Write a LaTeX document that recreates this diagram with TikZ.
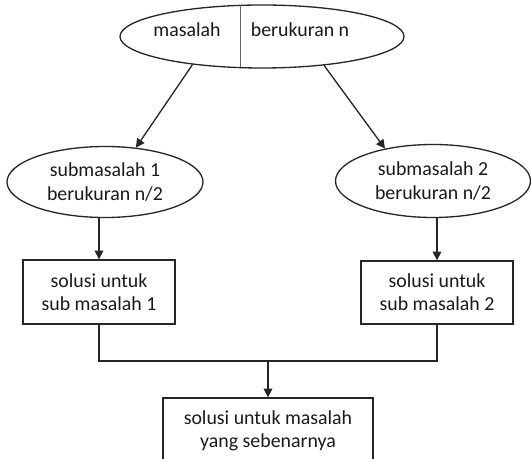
\documentclass[tikz,border=0pt]{standalone}
\usepackage{fontspec}
\setmainfont{Carlito}
\usepackage{xcolor}
\usetikzlibrary{arrows.meta, positioning, calc, shapes.geometric}

\begin{document}
\begin{tikzpicture}[
		garis/.style={line width=0.75pt, black!85},
		panah/.style={garis, -{Triangle[length=5pt, width=5pt]}},
		elips/.style={garis, draw, ellipse, inner sep=0pt, align=center, text=black!90},
		kotak/.style={garis, draw, rectangle, inner sep=0pt, align=center, text=black!90},
		font=\fontsize{11.3}{13.2}\selectfont
	]
	
	\useasboundingbox (0,0) rectangle (10.62,9.18);
	\clip (0,0) rectangle (10.62,9.18);
	
	% Masalah awal
	\node[elips, minimum width=5.68cm, minimum height=1.26cm] (masalah) at (5.24,8.45) {};
	\node[anchor=base, text=black!90] (kiri) at (3.74,8.44) {masalah};
	\node[anchor=base, text=black!90] (kanan) at (6.00,8.44) {berukuran n};
	\draw[black!60, line width=0.5pt] (4.80,9.07) -- (4.80,7.83);
	
	% Dua submasalah
	\node[elips, minimum width=3.92cm, minimum height=1.42cm] (sub1) at (2.10,5.54) {submasalah 1\\berukuran n/2};
	\node[elips, minimum width=3.90cm, minimum height=1.46cm] (sub2) at (8.66,5.56) {submasalah 2\\berukuran n/2};
	
	% Solusi tiap submasalah
	\node[kotak, minimum width=3.04cm, minimum height=1.28cm] (sol1) at (1.98,3.34) {solusi untuk\\sub masalah 1};
	\node[kotak, minimum width=3.04cm, minimum height=1.26cm] (sol2) at (8.74,3.33) {solusi untuk\\sub masalah 2};
	
	% Solusi akhir
	\coordinate (gabung) at (5.36,1.96);
	\node[kotak, minimum width=4.20cm, minimum height=1.30cm] (akhir) at (5.36,0.57) {solusi untuk masalah\\yang sebenarnya};
	
	% Panah
	\draw[panah] (masalah.202) -- (sub1.48);
	\draw[panah] (masalah.335) -- (sub2.146);
	\draw[panah] (sub1.south -| sol1.north) -- (sol1.north);
	\draw[panah] (sub2.south -| sol2.north) -- (sol2.north);
	\draw[garis] (sol1.south) |- (gabung) -| (sol2.south);
	\draw[panah] (gabung) -- (akhir.north);
	
\end{tikzpicture}
\end{document}
